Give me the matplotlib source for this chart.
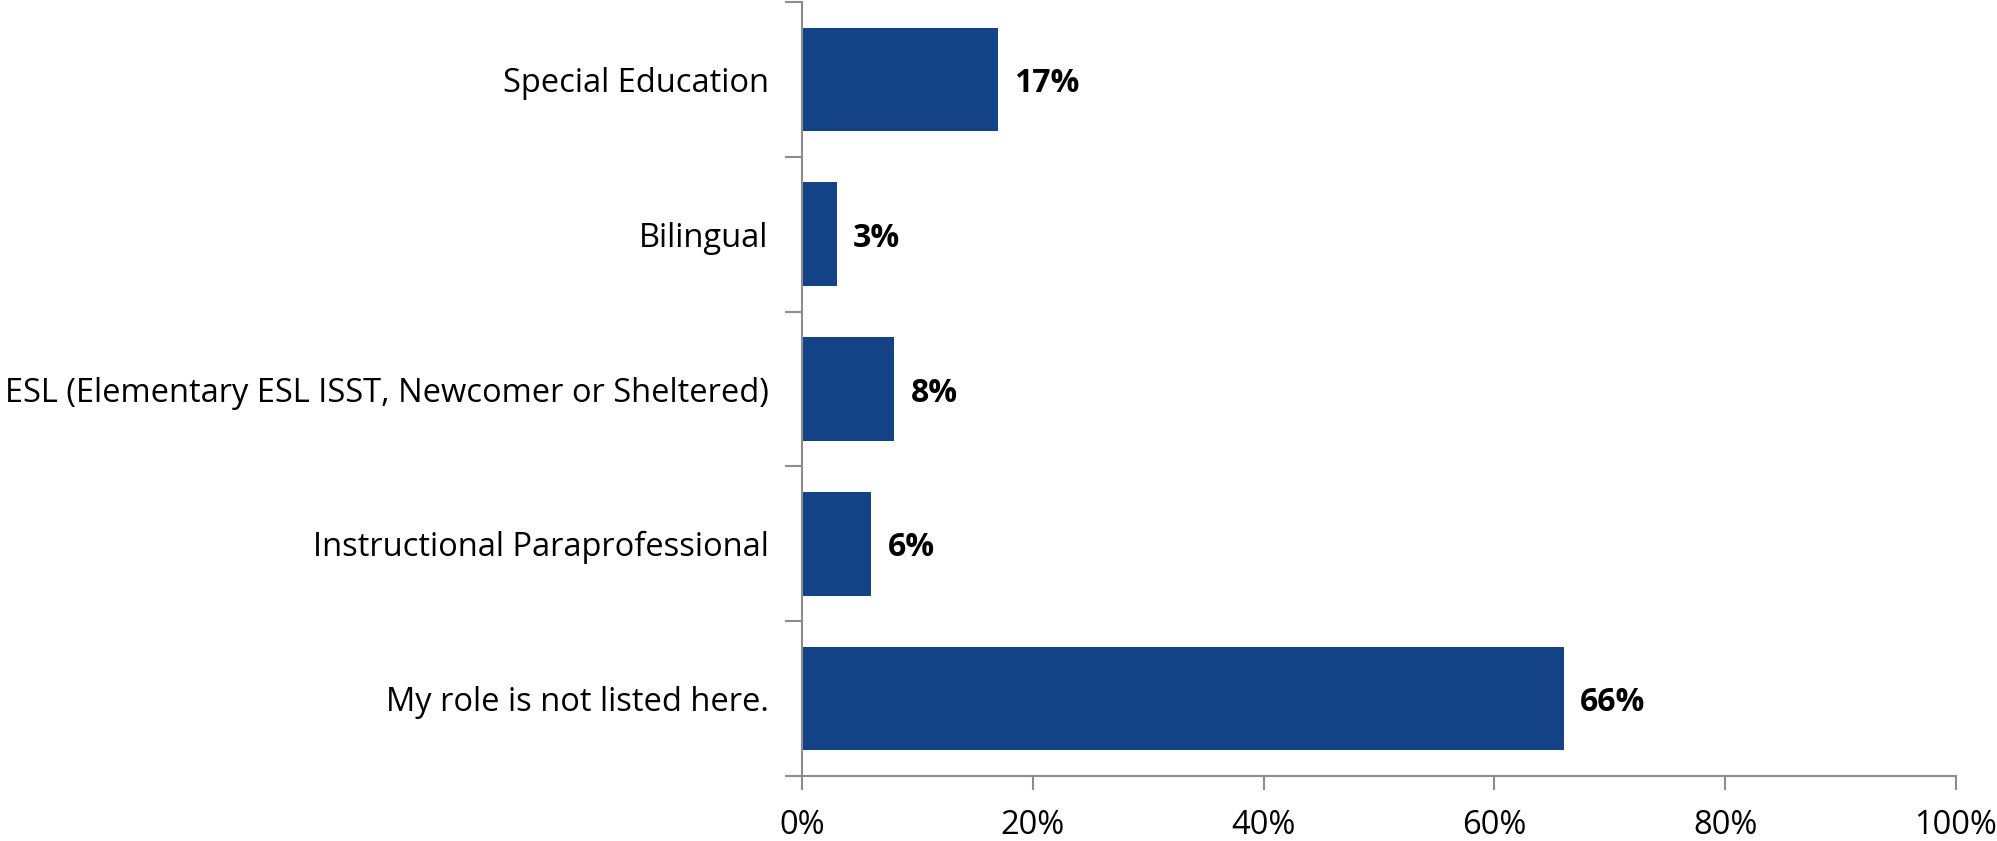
import matplotlib.pyplot as plt
from matplotlib.ticker import FuncFormatter

# Data
categories = ["Special Education", "Bilingual",
              "ESL (Elementary ESL ISST, Newcomer or Sheltered)",
              "Instructional Paraprofessional", "My role is not listed here."]
values = [17, 3, 8, 6, 66]

plt.rcParams['font.family'] = ['Open Sans', 'DejaVu Sans']

fig = plt.figure(figsize=(19.97, 8.41), dpi=100)
ax = fig.add_axes([802 / 1997, 1 - 776 / 841, 1154 / 1997, 774 / 841])

pos = list(range(len(categories)))[::-1]
ax.barh(pos, values, height=0.67, color="#134287")

for p, v in zip(pos, values):
    ax.text(v + 1.4, p, f"{v}%", va="center_baseline", ha="left",
            fontsize=23, fontweight="bold")

ax.set_xlim(0, 100)
ax.set_ylim(-0.5, len(categories) - 0.5)
ax.set_xticks([0, 20, 40, 60, 80, 100])
ax.xaxis.set_major_formatter(FuncFormatter(lambda x, _: f"{x:.0f}%"))
ax.set_yticks(pos)
ax.set_yticklabels(categories)
ax.set_yticks([-0.5] + [p + 0.5 for p in range(len(categories))], minor=True)

ax.spines['top'].set_visible(False)
ax.spines['right'].set_visible(False)
for s in ['left', 'bottom']:
    ax.spines[s].set_color('#8c8c8c')
    ax.spines[s].set_linewidth(1.5)

ax.tick_params(axis='y', which='major', length=0, labelsize=23.5, pad=24)
ax.tick_params(axis='y', which='minor', length=12, width=1.5, color='#8c8c8c')
ax.tick_params(axis='x', length=10, width=1.5, color='#8c8c8c', labelsize=23.5, pad=14)

fig.savefig("out.png", dpi=100)
